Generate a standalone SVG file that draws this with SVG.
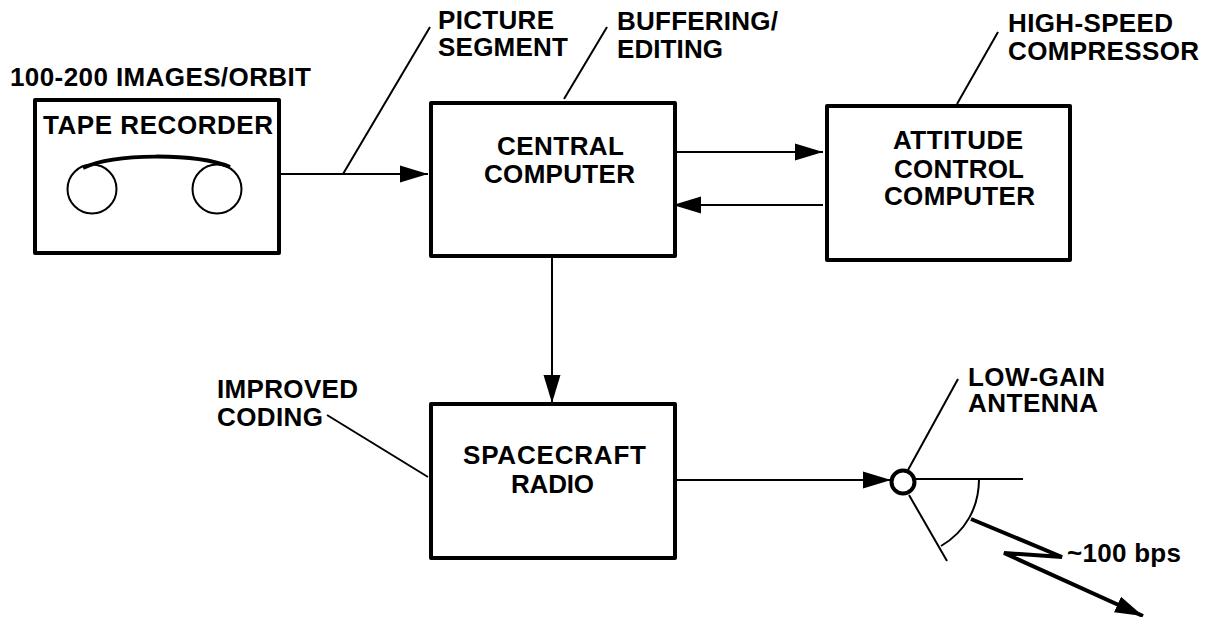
<svg xmlns="http://www.w3.org/2000/svg" width="1205" height="617" viewBox="0 0 1205 617">
<defs><marker id="a" markerUnits="userSpaceOnUse" markerWidth="30" markerHeight="18" refX="28" refY="9" orient="auto"><path d="M0 .5L28 9L0 17.5Z" fill="#000"/></marker></defs>
<style>text{font-family:"Liberation Sans",Arial,sans-serif;font-weight:bold;font-size:26px;fill:#000}.b{fill:#fff;stroke:#000;stroke-width:4;stroke-linejoin:round}.l{fill:none;stroke:#000;stroke-width:2}.t{fill:none;stroke:#000;stroke-width:4;stroke-linejoin:bevel}</style>
<rect width="1205" height="617" fill="#fff"/>
<g id="connectors">
<path class="l" d="M280 174H428" marker-end="url(#a)"/>
<path class="l" d="M343 174L430 27"/>
<path class="l" d="M564 99L607 27"/>
<path class="l" d="M957 104L998 32"/>
<path class="l" d="M677 152H823" marker-end="url(#a)"/>
<path class="l" d="M823 205H673" marker-end="url(#a)"/>
<path class="l" d="M552 258V403" marker-end="url(#a)"/>
<path class="l" d="M428 477L327 415"/>
<path class="l" d="M677 480H891" marker-end="url(#a)"/>
<path class="l" d="M908 470L958 379"/>
<path class="l" d="M915 479H1023"/>
<path class="l" d="M909 495L947 561"/>
<path class="l" d="M979 479C979 508 965 532 941 546"/>
<path class="t" d="M971 519L1062 557L1004 553L1143 616" marker-end="url(#a)"/>
</g>
<g id="tape-recorder"><rect class="b" x="35" y="100" width="244" height="153"/><text x="43" y="134" textLength="230">TAPE RECORDER</text><circle class="l" cx="92" cy="189" r="24.5"/><circle class="l" cx="217" cy="189" r="24.5"/><path d="M83 168C115 153 195 153 230 167" fill="none" stroke="#000" stroke-width="4"/></g>
<g id="central-computer"><rect class="b" x="431" y="103" width="244" height="153"/><text x="497" y="155" textLength="127">CENTRAL</text><text x="484" y="183" textLength="151">COMPUTER</text></g>
<g id="attitude-control-computer"><rect class="b" x="827" y="106" width="243" height="154"/><text x="893" y="149" textLength="130">ATTITUDE</text><text x="894" y="178" textLength="130">CONTROL</text><text x="884" y="205" textLength="151">COMPUTER</text></g>
<g id="spacecraft-radio"><rect class="b" x="431" y="404" width="244" height="154"/><text x="463" y="464" textLength="183">SPACECRAFT</text><text x="511" y="493" textLength="83">RADIO</text></g>
<g id="antenna"><circle cx="903" cy="482" r="11.5" fill="#fff" stroke="#000" stroke-width="4"/></g>
<g id="labels">
<text x="10" y="86" textLength="301">100-200 IMAGES/ORBIT</text>
<text x="438" y="29" textLength="116">PICTURE</text><text x="438" y="56" textLength="130">SEGMENT</text>
<text x="617" y="30" textLength="161">BUFFERING/</text><text x="617" y="58" textLength="106">EDITING</text>
<text x="1008" y="32" textLength="165">HIGH-SPEED</text><text x="1008" y="60" textLength="191">COMPRESSOR</text>
<text x="217" y="398" textLength="141">IMPROVED</text><text x="217" y="426" textLength="106">CODING</text>
<text x="968" y="386" textLength="137">LOW-GAIN</text><text x="968" y="412" textLength="130">ANTENNA</text>
<text x="1067" y="562" textLength="114">~100 bps</text>
</g>
</svg>
